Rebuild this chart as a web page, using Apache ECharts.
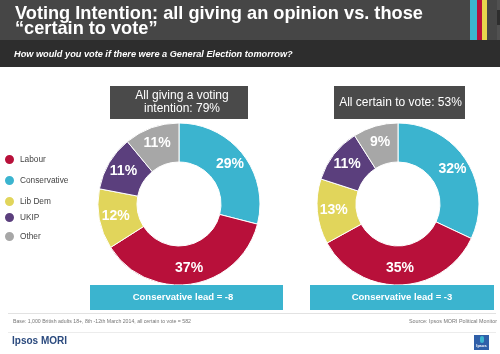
<!DOCTYPE html>
<html>
<head>
<meta charset="utf-8">
<script src="https://cdn.jsdelivr.net/npm/echarts@6/dist/echarts.min.js"></script>
<style>
html,body{margin:0;padding:0;background:#fff;}
#chart{width:500px;height:354px;}
</style>
</head>
<body>
<div id="chart"></div>
<script>
// ---- data ----
const parties = ['Conservative', 'Labour', 'Lib Dem', 'UKIP', 'Other'];
const partyColors = ['#3bb4cf', '#b8103a', '#e1d55b', '#5b3f7d', '#a7a7a7'];
const allGiving = [29, 37, 12, 11, 11];
const certainToVote = [32, 35, 13, 11, 9];
const legendOrder = ['Labour', 'Conservative', 'Lib Dem', 'UKIP', 'Other'];
const chartTitles = ['All giving a voting\nintention: 79%', 'All certain to vote: 53%'];
const leadTexts = ['Conservative lead = -8', 'Conservative lead = -3'];
const titleLines = ['Voting Intention: all giving an opinion vs. those', '\u201ccertain to vote\u201d'];
const subtitleText = 'How would you vote if there were a General Election tomorrow?';
const baseText = 'Base: 1,000 British adults 18+, 8th -12th March 2014, all certain to vote = 582';
const sourceText = 'Source: Ipsos MORI Political Monitor';

const FONT = '"Liberation Sans", Arial, sans-serif';
const chart = echarts.init(document.getElementById('chart'), null, {renderer: 'canvas'});

function pieData(vals) {
  return parties.map((p, i) => ({name: p, value: vals[i], itemStyle: {color: partyColors[i]}}));
}
function pieSeries(vals, cx) {
  return {
    type: 'pie',
    center: [cx, 204],
    radius: [42, 81],
    startAngle: 90,
    clockwise: true,
    avoidLabelOverlap: false,
    silent: true,
    itemStyle: {borderColor: '#fff', borderWidth: 1},
    label: {
      show: true, position: 'inside', formatter: '{c}%',
      color: '#fff', fontFamily: FONT, fontWeight: 'bold', fontSize: 14
    },
    labelLine: {show: false},
    emphasis: {disabled: true},
    data: pieData(vals)
  };
}

const legendTops = [153, 174, 195, 211, 230];
const legends = legendOrder.map((n, i) => ({
  data: [n], left: 3, top: legendTops[i], orient: 'vertical', padding: 0,
  icon: 'circle', itemWidth: 11, itemHeight: 11, itemGap: 0, selectedMode: false,
  textStyle: {fontFamily: FONT, fontSize: 8.3, color: '#444', padding: [0, 0, 0, 0]}
}));

const graphics = [
  // header bands
  {type: 'rect', shape: {x: 0, y: 0, width: 500, height: 40}, style: {fill: '#464646'}, z: -10},
  {type: 'rect', shape: {x: 0, y: 40, width: 500, height: 27}, style: {fill: '#2d2d2d'}, z: -10},
  {type: 'rect', shape: {x: 470, y: 0, width: 7, height: 40}, style: {fill: '#3bb4cf'}},
  {type: 'rect', shape: {x: 477, y: 0, width: 5, height: 40}, style: {fill: '#b8103a'}},
  {type: 'rect', shape: {x: 482, y: 0, width: 5, height: 40}, style: {fill: '#e8d44d'}},
  {type: 'rect', shape: {x: 497, y: 0, width: 3, height: 40}, style: {fill: '#505050'}},
  {type: 'rect', shape: {x: 497, y: 10, width: 3, height: 15}, style: {fill: '#2e2e2e'}},
  {type: 'text', x: 15, y: 13.5, style: {text: titleLines[0], fill: '#fff', font: 'bold 18.2px ' + FONT, verticalAlign: 'middle'}},
  {type: 'text', x: 15, y: 29, style: {text: titleLines[1], fill: '#fff', font: 'bold 18.2px ' + FONT, verticalAlign: 'middle'}},
  {type: 'text', x: 14, y: 54, style: {text: subtitleText, fill: '#fff', font: 'italic bold 9.2px ' + FONT, verticalAlign: 'middle'}},
  // chart title boxes
  {type: 'rect', shape: {x: 110, y: 86, width: 138, height: 33}, style: {fill: '#4a4a4a'}},
  {type: 'text', x: 182, y: 102.5, style: {text: chartTitles[0], fill: '#fff', font: '12px ' + FONT, align: 'center', verticalAlign: 'middle', lineHeight: 13}},
  {type: 'rect', shape: {x: 334, y: 86, width: 131, height: 33}, style: {fill: '#4a4a4a'}},
  {type: 'text', x: 400.5, y: 103, style: {text: chartTitles[1], fill: '#fff', font: '12px ' + FONT, align: 'center', verticalAlign: 'middle'}},
  // lead boxes
  {type: 'rect', shape: {x: 90, y: 285, width: 193, height: 25}, style: {fill: '#3bb4cf'}, z: 10},
  {type: 'text', x: 183, y: 297.5, style: {text: leadTexts[0], fill: '#fff', font: 'bold 9.5px ' + FONT, align: 'center', verticalAlign: 'middle'}, z: 11},
  {type: 'rect', shape: {x: 310, y: 285, width: 184, height: 25}, style: {fill: '#3bb4cf'}, z: 10},
  {type: 'text', x: 402, y: 297.5, style: {text: leadTexts[1], fill: '#fff', font: 'bold 9.5px ' + FONT, align: 'center', verticalAlign: 'middle'}, z: 11},
  // footer
  {type: 'rect', shape: {x: 8, y: 313, width: 488, height: 1}, style: {fill: '#e2e2e2'}},
  {type: 'text', x: 13, y: 322, style: {text: baseText, fill: '#777', font: '5.2px ' + FONT, verticalAlign: 'middle'}},
  {type: 'text', x: 497, y: 322, style: {text: sourceText, fill: '#777', font: '5.4px ' + FONT, align: 'right', verticalAlign: 'middle'}},
  {type: 'rect', shape: {x: 8, y: 332, width: 488, height: 1}, style: {fill: '#ececec'}},
  {type: 'text', x: 12, y: 341, style: {text: 'Ipsos MORI', fill: '#2b4a7e', font: 'bold 10px ' + FONT, verticalAlign: 'middle'}},
  {type: 'rect', shape: {x: 474, y: 335, width: 15, height: 15}, style: {fill: '#2f5fa8'}},
  {type: 'rect', shape: {x: 480, y: 336, width: 4, height: 7, r: 2}, style: {fill: '#3bb4cf'}},
  {type: 'text', x: 481.5, y: 346, style: {text: 'Ipsos', fill: '#fff', font: 'bold 4px ' + FONT, align: 'center', verticalAlign: 'middle'}}
];

chart.setOption({
  animation: false,
  backgroundColor: '#fff',
  legend: legends,
  graphic: graphics,
  series: [pieSeries(allGiving, 179), pieSeries(certainToVote, 398)]
});
</script>
</body>
</html>
